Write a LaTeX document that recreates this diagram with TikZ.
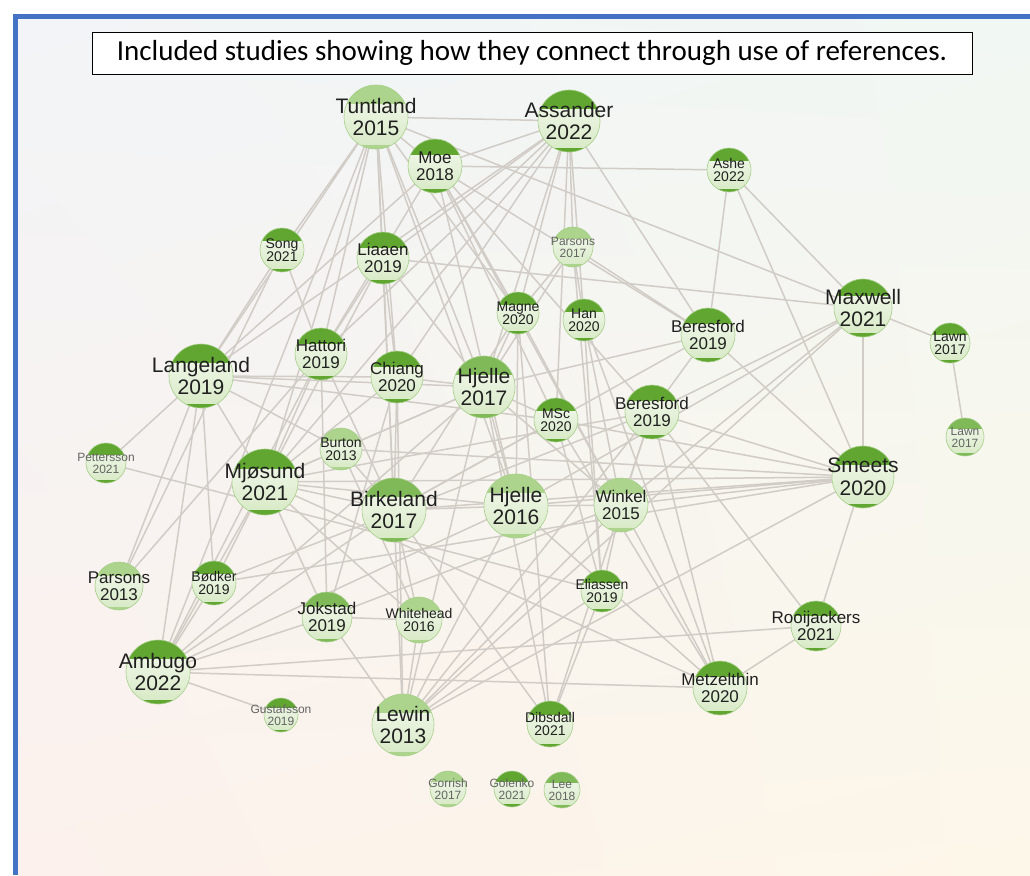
\documentclass[tikz,border=0pt]{standalone}
\usepackage{fontspec}
\setmainfont{Liberation Sans}
\newfontfamily\captionfont{Carlito}
\usetikzlibrary{calc,shadings}

\definecolor{frameblue}{RGB}{68,114,196}
\definecolor{linkgray}{RGB}{210,204,198}
\definecolor{capdark}{RGB}{98,166,50}
\definecolor{capmid}{RGB}{128,186,88}
\definecolor{caplight}{RGB}{172,212,140}
\definecolor{bodytop}{RGB}{246,250,241}
\definecolor{bodybot}{RGB}{214,233,196}
\definecolor{inktext}{RGB}{32,32,32}
\definecolor{fainttext}{RGB}{100,100,100}
\definecolor{bgUL}{RGB}{242,244,247}
\definecolor{bgUR}{RGB}{241,247,243}
\definecolor{bgLL}{RGB}{252,241,236}
\definecolor{bgLR}{RGB}{253,247,233}

\pgfdeclarelayer{bglayer}
\pgfdeclarelayer{linklayer}
\pgfsetlayers{bglayer,linklayer,main}

\tikzset{
  link/.style={draw=linkgray, line width=1.5pt},
  studybody/.style={circle, inner sep=0pt, outer sep=0pt,
    top color=bodytop, bottom color=bodybot, draw=capmid!70, line width=0.6pt},
  fL/.style={font=\fontsize{21}{22.5}\selectfont, text=inktext},
  fM/.style={font=\fontsize{17}{17.5}\selectfont, text=inktext},
  fS/.style={font=\fontsize{14}{13.5}\selectfont, text=inktext},
  fXS/.style={font=\fontsize{12}{12}\selectfont, text=fainttext},
  titlebox/.style={draw=black, line width=0.8pt, fill=white, inner sep=0pt,
    minimum width=880pt, minimum height=42pt,
    font=\captionfont\fontsize{29}{31}\selectfont}
}

% one study: name, x, y, radius, text style, cap colour, author, year
\newcommand\study[8]{%
  \node[studybody, minimum size={2*#4}, path picture={
      \fill[#6] (path picture bounding box.north west) rectangle
        ($(path picture bounding box.north east)!0.3!(path picture bounding box.south east)$);
      \fill[#6] ($(path picture bounding box.north west)!0.93!(path picture bounding box.south west)$)
        rectangle (path picture bounding box.south east);
    }] (#1) at (#2,#3) {};
  \node[#5, align=center, inner sep=0pt] (#1t) at (#1) {#7\\#8};
}

\begin{document}
\begin{tikzpicture}[x=1pt, y=-1pt]
\useasboundingbox (0,0) rectangle (1030,875);

\begin{pgfonlayer}{bglayer}
  \fill[white] (0,0) rectangle (1030,875);
  \shade[upper left=bgUL, upper right=bgUR, lower left=bgLL, lower right=bgLR]
    (18,19) rectangle (1030,875);
  \fill[frameblue] (13,14) rectangle (1030,19);
  \fill[frameblue] (13,14) rectangle (18,875);
\end{pgfonlayer}

\node[titlebox] (title) at (532,53) {Included studies showing how they connect through use of references.};

% studies
\study{tunt}{376}{117}{32}{fL}{caplight}{Tuntland}{2015}
\study{assa}{569}{121}{31}{fL}{capdark}{Assander}{2022}
\study{moe}{435}{166}{27}{fM}{capdark}{Moe}{2018}
\study{ashe}{729}{170}{22}{fS}{capdark}{Ashe}{2022}
\study{song}{282}{250}{22}{fS}{capdark}{Song}{2021}
\study{liaa}{383}{258}{26}{fM}{capdark}{Liaaen}{2019}
\study{parsB}{573}{247}{20}{fXS}{caplight}{Parsons}{2017}
\study{magn}{518}{313}{21}{fS}{capdark}{Magne}{2020}
\study{han}{584}{320}{21}{fS}{capdark}{Han}{2020}
\study{beresA}{708}{335}{27}{fM}{capdark}{Beresford}{2019}
\study{maxw}{863}{308}{29}{fL}{capdark}{Maxwell}{2021}
\study{lawnA}{950}{343}{20}{fS}{capdark}{Lawn}{2017}
\study{lawnB}{965}{437}{19}{fXS}{capmid}{Lawn}{2017}
\study{lang}{201}{376}{32}{fL}{capdark}{Langeland}{2019}
\study{hatt}{321}{354}{26}{fM}{capdark}{Hattori}{2019}
\study{chia}{397}{377}{26}{fM}{capdark}{Chiang}{2020}
\study{hjA}{484}{387}{31}{fL}{capmid}{Hjelle}{2017}
\study{burt}{341}{449}{21}{fS}{caplight}{Burton}{2013}
\study{msc}{556}{420}{22}{fS}{capdark}{MSc}{2020}
\study{beresB}{652}{412}{27}{fM}{capdark}{Beresford}{2019}
\study{pett}{106}{463}{20}{fXS}{capdark}{Pettersson}{2021}
\study{mjos}{265}{482}{33}{fL}{capdark}{Mjøsund}{2021}
\study{birk}{394}{510}{32}{fL}{capmid}{Birkeland}{2017}
\study{hjB}{516}{506}{32}{fL}{caplight}{Hjelle}{2016}
\study{wink}{621}{505}{27}{fM}{caplight}{Winkel}{2015}
\study{smee}{863}{477}{31}{fL}{capdark}{Smeets}{2020}
\study{parsA}{119}{586}{24}{fM}{caplight}{Parsons}{2013}
\study{bodk}{214}{583}{22}{fS}{capdark}{Bødker}{2019}
\study{joks}{327}{617}{25}{fM}{capmid}{Jokstad}{2019}
\study{whit}{419}{620}{23}{fS}{caplight}{Whitehead}{2016}
\study{elia}{602}{591}{21}{fS}{capdark}{Eliassen}{2019}
\study{rooi}{816}{626}{25}{fM}{capdark}{Rooijackers}{2021}
\study{ambu}{158}{672}{32}{fL}{capdark}{Ambugo}{2022}
\study{metz}{720}{688}{27}{fM}{capdark}{Metzelthin}{2020}
\study{gust}{281}{715}{17}{fXS}{capdark}{Gustafsson}{2019}
\study{lewi}{403}{725}{31}{fL}{caplight}{Lewin}{2013}
\study{dibs}{550}{724}{23}{fS}{capdark}{Dibsdall}{2021}
\study{gorr}{448}{789}{18}{fXS}{caplight}{Gorrish}{2017}
\study{gole}{512}{789}{18}{fXS}{capdark}{Golenko}{2021}
\study{lee}{562}{790}{18}{fXS}{capmid}{Lee}{2018}

% citation links
\begin{pgfonlayer}{linklayer}
  \foreach \a/\b in {
    tunt/assa, tunt/moe, tunt/maxw, tunt/song, tunt/lang, tunt/hatt, tunt/mjos,
    tunt/liaa, tunt/chia, tunt/hjB, tunt/birk, tunt/ambu, tunt/hjA, tunt/magn,
    moe/assa, moe/ashe, moe/magn, moe/msc, moe/wink, moe/beresB, moe/hatt,
    moe/lang, moe/hjB, moe/beresA,
    assa/liaa, assa/hatt, assa/parsB, assa/magn, assa/han, assa/beresA,
    assa/mjos, assa/lang, assa/hjA, assa/chia, assa/msc,
    ashe/beresA, ashe/maxw, ashe/smee,
    song/lang, song/hatt, song/parsA,
    liaa/maxw, liaa/hatt, liaa/chia, liaa/birk, liaa/mjos, liaa/hjA,
    parsB/beresA, parsB/han, parsB/hjA, parsB/magn, parsB/elia,
    magn/hjA, magn/birk, magn/hjB, magn/wink, magn/dibs,
    han/wink, han/elia, han/metz,
    beresA/hjA, beresA/beresB, beresA/smee, beresA/birk,
    maxw/lawnA, maxw/smee, maxw/beresB, maxw/wink, maxw/hjB, maxw/lewi,
    lawnA/lawnB,
    lang/pett, lang/chia, lang/hjA, lang/burt, lang/mjos, lang/parsA,
    lang/ambu, lang/bodk, lang/msc,
    hatt/mjos, hatt/birk, hatt/ambu, hatt/joks,
    chia/hjA, chia/birk, chia/mjos, chia/lewi, chia/joks,
    hjA/hjB, hjA/msc, hjA/mjos, hjA/burt, hjA/lewi, hjA/ambu, hjA/wink, hjA/dibs,
    burt/mjos, burt/birk, burt/smee, burt/whit,
    msc/smee, msc/metz, msc/elia, msc/birk,
    beresB/wink, beresB/smee, beresB/metz, beresB/lewi, beresB/dibs,
    beresB/rooi, beresB/mjos,
    pett/elia,
    mjos/birk, mjos/joks, mjos/ambu, mjos/smee, mjos/whit, mjos/bodk,
    mjos/metz, mjos/hjB,
    birk/hjB, birk/lewi, birk/whit, birk/smee, birk/ambu, birk/dibs,
    hjB/wink, hjB/lewi, hjB/ambu, hjB/smee, hjB/metz,
    wink/smee, wink/elia, wink/lewi, wink/metz, wink/joks,
    smee/rooi, smee/lewi, smee/bodk,
    parsA/hatt,
    bodk/ambu, bodk/beresB,
    joks/ambu, joks/lewi, joks/whit,
    whit/lewi,
    elia/dibs, elia/lewi,
    rooi/metz, rooi/ambu,
    ambu/metz, ambu/gust}
    \draw[link] (\a) -- (\b);
\end{pgfonlayer}
\end{tikzpicture}
\end{document}
